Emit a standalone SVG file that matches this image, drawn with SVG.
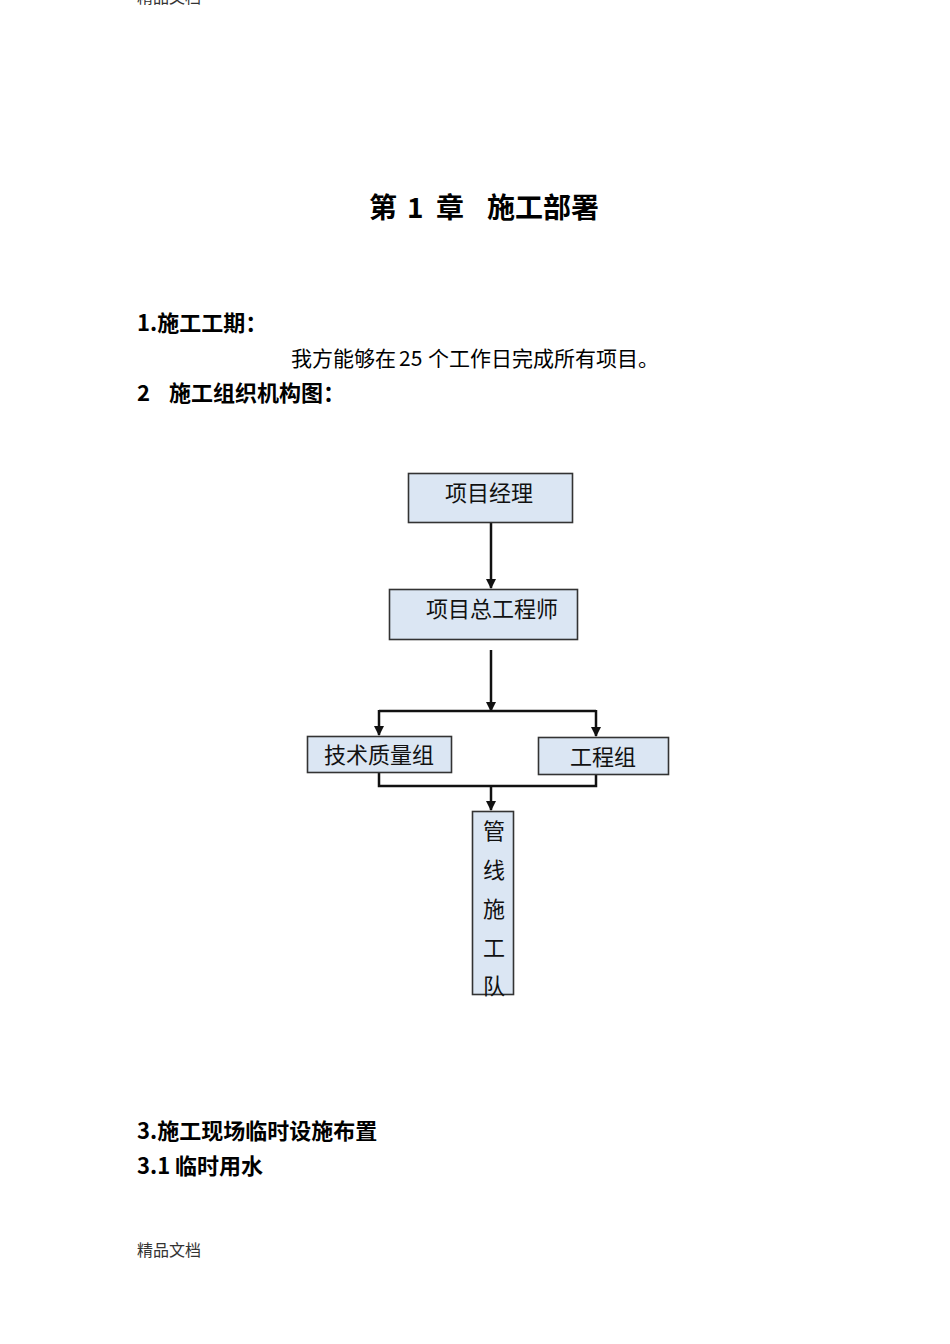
<svg xmlns="http://www.w3.org/2000/svg" width="950" height="1344" viewBox="0 0 950 1344">
<style>
.h{font-family:"Noto Sans CJK SC","Noto Sans",sans-serif;font-weight:bold;fill:#000}
.t{font-family:"Noto Sans CJK SC",sans-serif;fill:#000;font-size:21px}
.s{font-family:"Liberation Serif","Noto Sans CJK SC",serif;fill:#333;font-size:16px}
.box{fill:#dbe6f3;stroke:#333;stroke-width:1.6}
.lab{font-family:"Noto Sans CJK SC",sans-serif;font-size:22px;fill:#111;text-anchor:middle}
.c{fill:none;stroke:#111;stroke-width:2.5}
</style>
<defs>
<marker id="ar" viewBox="0 0 10 10" refX="9" refY="5" markerWidth="4" markerHeight="4" orient="auto">
<path d="M0,0 L10,5 L0,10 z" fill="#111"/>
</marker>
</defs>
<rect width="950" height="1344" fill="#fff"/>
<text class="s" x="137" y="3">精品文档</text>
<g id="title">
<text class="h" x="369" y="218" font-size="28">第</text>
<text class="h" x="407" y="218" font-size="28">1</text>
<text class="h" x="436" y="218" font-size="28">章</text>
<text class="h" x="487" y="218" font-size="28">施工部署</text>
</g>
<text class="h" x="137" y="331" font-size="22">1.施工工期：</text>
<g id="body">
<text class="t" x="291" y="366" font-size="20">我方能够在</text>
<text class="t" x="399" y="366">25</text>
<text class="t" x="428" y="366">个工作日完成所有项目。</text>
</g>
<text class="h" x="137" y="401" font-size="22">2</text>
<text class="h" x="169" y="401" font-size="22">施工组织机构图：</text>

<g id="connectors">
<line class="c" x1="491" y1="523" x2="491" y2="588" marker-end="url(#ar)"/>
<line class="c" x1="491" y1="650" x2="491" y2="711" marker-end="url(#ar)"/>
<polyline class="c" points="379,711 596,711"/>
<line class="c" x1="379" y1="710" x2="379" y2="735" marker-end="url(#ar)"/>
<line class="c" x1="596" y1="710" x2="596" y2="736" marker-end="url(#ar)"/>
<polyline class="c" points="379,773 379,786 596,786 596,775"/>
<line class="c" x1="491" y1="786" x2="491" y2="810" marker-end="url(#ar)"/>
</g>

<g id="n1">
<rect class="box" x="408.5" y="473.5" width="164" height="49"/>
<text class="lab" x="489" y="501">项目经理</text>
</g>
<g id="n2">
<rect class="box" x="389.5" y="589.5" width="188" height="50"/>
<text class="lab" x="492" y="617">项目总工程师</text>
</g>
<g id="n3">
<rect class="box" x="307.5" y="736.5" width="144" height="36"/>
<text class="lab" x="379" y="763">技术质量组</text>
</g>
<g id="n4">
<rect class="box" x="538.5" y="737.5" width="130" height="37"/>
<text class="lab" x="603" y="765">工程组</text>
</g>
<g id="n5">
<rect class="box" x="472.5" y="811.5" width="41" height="183"/>
<text class="lab" x="494" y="839">管</text>
<text class="lab" x="494" y="878">线</text>
<text class="lab" x="494" y="917">施</text>
<text class="lab" x="494" y="956">工</text>
<text class="lab" x="494" y="994">队</text>
</g>

<text class="h" x="137" y="1139" font-size="22">3.施工现场临时设施布置</text>
<text class="h" x="137" y="1174" font-size="22">3.1 临时用水</text>
<text class="s" x="137" y="1256">精品文档</text>
</svg>
